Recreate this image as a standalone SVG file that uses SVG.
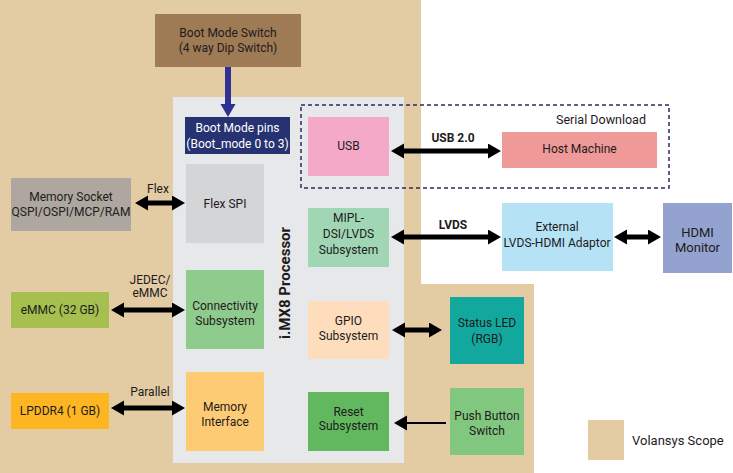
<svg xmlns="http://www.w3.org/2000/svg" width="733" height="473" viewBox="0 0 733 473">
<style>
text{font-family:Roboto,"Liberation Sans",sans-serif;font-size:12px;fill:#1E1B1C;text-anchor:middle}
.w{fill:#ffffff}
.b{font-weight:bold}
.thick{stroke:#000;stroke-width:5;fill:none}
.thin{stroke:#000;stroke-width:2;fill:none}
</style>
<defs>
<marker id="ah" markerUnits="userSpaceOnUse" markerWidth="14" markerHeight="16" refX="1" refY="7.5" orient="auto-start-reverse">
<path d="M0,0 L13,7.5 L0,15 z" fill="#000"/>
</marker>
<marker id="ahb" markerUnits="userSpaceOnUse" markerWidth="14" markerHeight="16" refX="1" refY="7.5" orient="auto">
<path d="M0,0 L13,7.5 L0,15 z" fill="#2E3192"/>
</marker>
</defs>
<rect width="733" height="473" fill="#fff"/>
<polygon points="0,0 421,0 421,284 534,284 534,473 0,473" fill="#E3CCA3"/>
<rect x="173" y="97" width="231" height="366" fill="#E7E8EA"/>
<rect x="301" y="105" width="368" height="83" fill="none" stroke="#2B2A66" stroke-width="1.5" stroke-dasharray="4,3"/>
<text x="601" y="124" style="font-size:12.5px">Serial Download</text>
<text transform="translate(290,283) rotate(-90)" style="font-size:15px;font-weight:bold">i.MX8 Processor</text>

<g id="boot-switch"><rect x="155" y="14" width="146" height="53" fill="#9E7A55"/><text x="228" y="37">Boot Mode Switch</text><text x="228" y="52">(4 way Dip Switch)</text></g>
<g id="boot-pins"><rect x="185" y="117" width="105" height="37" fill="#263272"/><text x="237.5" y="132" class="w">Boot Mode pins</text><text x="237.5" y="148" class="w">(Boot_mode 0 to 3)</text></g>
<g id="flex-spi"><rect x="186" y="164" width="78" height="79" fill="#D4D5D7"/><text x="225" y="208">Flex SPI</text></g>
<g id="connectivity"><rect x="186" y="270" width="78" height="79" fill="#8FCB8C"/><text x="225" y="310">Connectivity</text><text x="225" y="325">Subsystem</text></g>
<g id="memory-interface"><rect x="186" y="372" width="78" height="79" fill="#FECB75"/><text x="225" y="411">Memory</text><text x="225" y="426">Interface</text></g>
<g id="usb"><rect x="308" y="117" width="81" height="59" fill="#F5A9C8"/><text x="348.5" y="150">USB</text></g>
<g id="mipl"><rect x="308" y="208" width="81" height="59" fill="#A1D6B5"/><text x="348.5" y="222">MIPL-</text><text x="348.5" y="238">DSI/LVDS</text><text x="348.5" y="254">Subsystem</text></g>
<g id="gpio"><rect x="308" y="301" width="81" height="58" fill="#FDDDBB"/><text x="348.5" y="325">GPIO</text><text x="348.5" y="340">Subsystem</text></g>
<g id="reset"><rect x="308" y="392" width="81" height="59" fill="#62B85F"/><text x="348.5" y="416">Reset</text><text x="348.5" y="430">Subsystem</text></g>
<g id="host"><rect x="502" y="132" width="155" height="36" fill="#EF9A98"/><text x="579.5" y="153">Host Machine</text></g>
<g id="adaptor"><rect x="502" y="203" width="111" height="68" fill="#B5E3F5"/><text x="557" y="231">External</text><text x="557" y="247">LVDS-HDMI Adaptor</text></g>
<g id="hdmi"><rect x="663" y="203" width="69" height="70" fill="#93A2CE"/><text x="697.5" y="237" style="font-size:13px">HDMI</text><text x="697.5" y="252" style="font-size:13px">Monitor</text></g>
<g id="status-led"><rect x="450" y="297" width="74" height="67" fill="#13A89E"/><text x="487" y="327">Status LED</text><text x="487" y="343">(RGB)</text></g>
<g id="push-button"><rect x="450" y="388" width="74" height="67" fill="#82C780"/><text x="487" y="420">Push Button</text><text x="487" y="435">Switch</text></g>
<g id="memory-socket"><rect x="11" y="178" width="120" height="53" fill="#ADA79F"/><text x="71" y="201">Memory Socket</text><text x="71" y="216">QSPI/OSPI/MCP/RAM</text></g>
<g id="emmc"><rect x="11" y="292" width="98" height="36" fill="#A5C04E"/><text x="60" y="314">eMMC (32 GB)</text></g>
<g id="lpddr4"><rect x="11" y="393" width="98" height="36" fill="#FDB522"/><text x="60" y="415">LPDDR4 (1 GB)</text></g>
<g id="legend"><rect x="588" y="420" width="36" height="40" fill="#E3CCA3"/><text x="632" y="445" style="text-anchor:start;font-size:13px">Volansys Scope</text></g>

<g id="connectors">
<line x1="228" y1="67" x2="228" y2="105" stroke="#2E3192" stroke-width="6" marker-end="url(#ahb)"/>
<line x1="147" y1="203" x2="173" y2="203" class="thick" marker-start="url(#ah)" marker-end="url(#ah)"/>
<line x1="123" y1="310" x2="173" y2="310" class="thick" marker-start="url(#ah)" marker-end="url(#ah)"/>
<line x1="123" y1="408" x2="173" y2="408" class="thick" marker-start="url(#ah)" marker-end="url(#ah)"/>
<line x1="403" y1="151" x2="489" y2="151" class="thick" marker-start="url(#ah)" marker-end="url(#ah)"/>
<line x1="403" y1="237" x2="489" y2="237" class="thick" marker-start="url(#ah)" marker-end="url(#ah)"/>
<line x1="626" y1="237" x2="649" y2="237" class="thick" marker-start="url(#ah)" marker-end="url(#ah)"/>
<line x1="404" y1="330" x2="430" y2="330" class="thick" marker-start="url(#ah)" marker-end="url(#ah)"/>
<line x1="446" y1="423" x2="406" y2="423" class="thin" marker-end="url(#ah)"/>
<text x="158" y="193">Flex</text>
<text x="150" y="284">JEDEC/</text>
<text x="150" y="297">eMMC</text>
<text x="150" y="396">Parallel</text>
<text x="453" y="142" class="b">USB 2.0</text>
<text x="453" y="229" class="b">LVDS</text>
</g>
</svg>
